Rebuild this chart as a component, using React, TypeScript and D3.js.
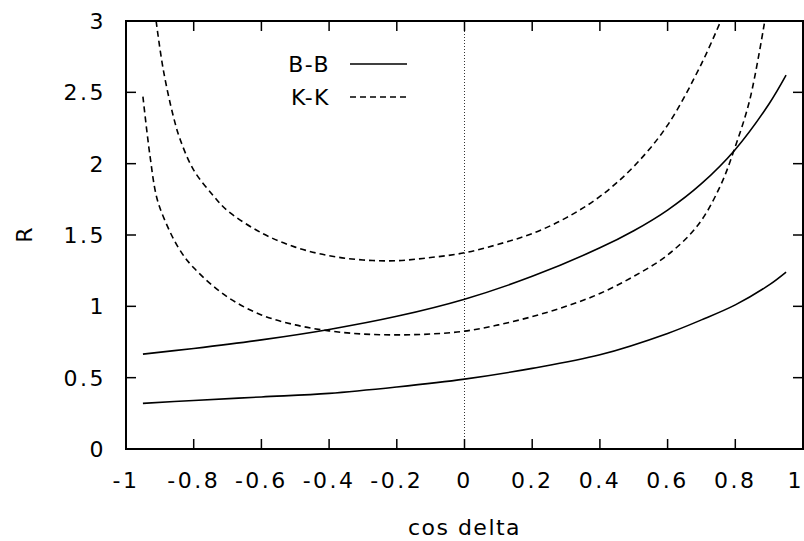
import React, { useEffect, useRef } from 'react'
import * as d3 from 'd3'

// tick values
const xTicks = [-1, -0.8, -0.6, -0.4, -0.2, 0, 0.2, 0.4, 0.6, 0.8, 1]
const yTicks = [0, 0.5, 1, 1.5, 2, 2.5, 3]

// B-B, lower and upper solid curves
const bbLowX = [-0.95, -0.8, -0.6, -0.4, -0.2, 0, 0.2, 0.4, 0.6, 0.7, 0.8, 0.9, 0.95]
const bbLowY = [0.32, 0.34, 0.365, 0.39, 0.435, 0.49, 0.565, 0.66, 0.81, 0.905, 1.01, 1.15, 1.24]
const bbHighX = [-0.95, -0.8, -0.6, -0.4, -0.2, 0, 0.2, 0.4, 0.5, 0.6, 0.7, 0.8, 0.9, 0.95]
const bbHighY = [0.665, 0.705, 0.765, 0.838, 0.93, 1.05, 1.21, 1.41, 1.53, 1.675, 1.86, 2.1, 2.42, 2.62]

// K-K, outer and inner dashed curves
const kkOuterX = [-0.911, -0.89, -0.86, -0.84, -0.8, -0.74, -0.7, -0.6, -0.5, -0.4, -0.3, -0.2, -0.1, 0, 0.1, 0.2, 0.3, 0.4, 0.5, 0.6, 0.7, 0.757]
const kkOuterY = [3.0, 2.66, 2.33, 2.17, 1.955, 1.77, 1.67, 1.515, 1.415, 1.355, 1.325, 1.32, 1.342, 1.375, 1.435, 1.51, 1.62, 1.77, 1.98, 2.27, 2.7, 3.0]
const kkInnerX = [-0.95, -0.93, -0.91, -0.89, -0.845, -0.8, -0.7, -0.6, -0.5, -0.4, -0.3, -0.2, -0.1, 0, 0.1, 0.2, 0.3, 0.4, 0.5, 0.6, 0.69, 0.755, 0.8, 0.843, 0.887]
const kkInnerY = [2.47, 2.07, 1.77, 1.63, 1.41, 1.27, 1.065, 0.94, 0.87, 0.828, 0.806, 0.8, 0.806, 0.826, 0.87, 0.928, 1.0, 1.09, 1.21, 1.36, 1.57, 1.84, 2.12, 2.45, 3.0]

const series = [
  { xs: bbLowX, ys: bbLowY, dash: null },
  { xs: bbHighX, ys: bbHighY, dash: null },
  { xs: kkOuterX, ys: kkOuterY, dash: '6,4' },
  { xs: kkInnerX, ys: kkInnerY, dash: '6,4' },
]

const legendItems = [
  { label: 'B-B', dash: null },
  { label: 'K-K', dash: '6,4' },
]

const App = () => {
  const ref = useRef<SVGSVGElement | null>(null)

  useEffect(() => {
    const width = 804
    const height = 541
    const m = { left: 126, right: 1, top: 21, bottom: 92 }
    const font = '"DejaVu Sans", sans-serif'

    const svg = d3.select(ref.current)
    svg.selectAll('*').remove()
    svg.attr('width', width).attr('height', height)

    const x = d3.scaleLinear().domain([-1, 1]).range([m.left, width - m.right])
    const y = d3.scaleLinear().domain([0, 3]).range([height - m.bottom, m.top])

    svg.append('defs').append('clipPath').attr('id', 'plot')
      .append('rect')
      .attr('x', m.left).attr('y', m.top)
      .attr('width', x(1) - m.left).attr('height', y(0) - m.top)

    // zero line
    svg.append('line')
      .attr('x1', x(0)).attr('x2', x(0))
      .attr('y1', y(0)).attr('y2', y(3))
      .attr('stroke', '#000').attr('stroke-width', 0.8)
      .attr('stroke-dasharray', '1,2')

    // ticks, inward on all four sides
    const tl = 10
    const tickG = svg.append('g').attr('stroke', '#000').attr('stroke-width', 1.5)
    xTicks.forEach(t => {
      tickG.append('line').attr('x1', x(t)).attr('x2', x(t)).attr('y1', y(0)).attr('y2', y(0) - tl)
      tickG.append('line').attr('x1', x(t)).attr('x2', x(t)).attr('y1', y(3)).attr('y2', y(3) + tl)
    })
    yTicks.forEach(t => {
      tickG.append('line').attr('x1', x(-1)).attr('x2', x(-1) + tl).attr('y1', y(t)).attr('y2', y(t))
      tickG.append('line').attr('x1', x(1)).attr('x2', x(1) - tl).attr('y1', y(t)).attr('y2', y(t))
    })

    // border
    svg.append('rect')
      .attr('x', x(-1)).attr('y', y(3))
      .attr('width', x(1) - x(-1)).attr('height', y(0) - y(3))
      .attr('fill', 'none').attr('stroke', '#000').attr('stroke-width', 2)

    // tick labels (plain hyphen for minus, as in the original)
    const fmt = (d: number) => String(d)
    svg.append('g').selectAll('text')
      .data(xTicks)
      .join('text')
      .attr('x', d => (d === 1 ? width : x(d)))
      .attr('y', 488)
      .attr('text-anchor', d => (d === 1 ? 'end' : 'middle'))
      .style('font-family', font)
      .style('font-size', '22px')
      .style('letter-spacing', '2.5px')
      .text(fmt)

    svg.append('g').selectAll('text')
      .data(yTicks)
      .join('text')
      .attr('x', 106)
      .attr('y', d => y(d) + 8)
      .attr('text-anchor', 'end')
      .style('font-family', font)
      .style('font-size', '22px')
      .style('letter-spacing', '2.5px')
      .text(fmt)

    // axis titles
    svg.append('text')
      .attr('x', x(0))
      .attr('y', 535)
      .attr('text-anchor', 'middle')
      .style('font-family', font)
      .style('font-size', '22px')
      .style('letter-spacing', '1.5px')
      .text('cos delta')

    svg.append('text')
      .attr('transform', `translate(32, ${y(1.5)}) rotate(-90)`)
      .attr('text-anchor', 'middle')
      .style('font-family', font)
      .style('font-size', '22px')
      .text('R')

    // curves
    const line = d3.line<[number, number]>()
      .x(d => x(d[0]))
      .y(d => y(d[1]))
      .curve(d3.curveCatmullRom.alpha(0.5))

    const plot = svg.append('g').attr('clip-path', 'url(#plot)')
    series.forEach(s => {
      const pts = s.xs.map((v, i) => [v, s.ys[i]] as [number, number])
      plot.append('path')
        .attr('d', line(pts))
        .attr('fill', 'none')
        .attr('stroke', '#000')
        .attr('stroke-width', 1.6)
        .attr('stroke-dasharray', s.dash)
    })

    // legend
    const legend = svg.append('g')
    legendItems.forEach((d, i) => {
      const ly = 64 + i * 33
      legend.append('text')
        .attr('x', 330)
        .attr('y', ly + 8)
        .attr('text-anchor', 'end')
        .style('font-family', font)
        .style('font-size', '22px')
        .style('letter-spacing', '1.5px')
        .text(d.label)
      legend.append('line')
        .attr('x1', 350).attr('x2', 407)
        .attr('y1', ly).attr('y2', ly)
        .attr('stroke', '#000')
        .attr('stroke-width', 1.6)
        .attr('stroke-dasharray', d.dash)
    })
  }, [])

  return (
    <div style={{ position: 'absolute', left: 0, top: 0 }}>
      <svg ref={ref}></svg>
    </div>
  )
}

export default App
